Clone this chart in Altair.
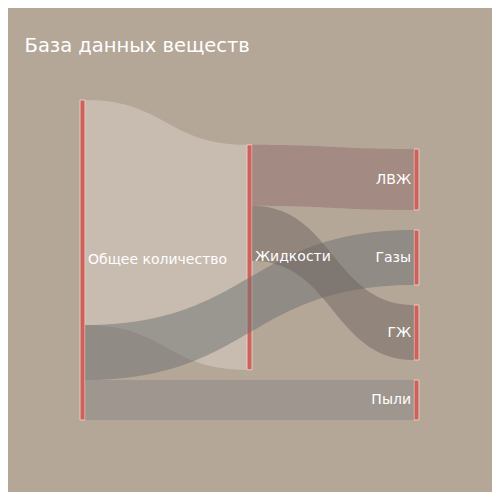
import altair as alt
import pandas as pd
import numpy as np

title_text = "База данных веществ"
node_names = ["Общее количество", "Жидкости", "ЛВЖ", "Газы", "ГЖ", "Пыли"]
link_sources = ["Общее количество", "Общее количество", "Общее количество", "Жидкости", "Жидкости"]
link_targets = ["Жидкости", "Газы", "Пыли", "ЛВЖ", "ГЖ"]
link_values = [225, 55, 40, 61, 55]

# style
link_colors = ["#dcd2c8", "#6c7070", "#8a8886", "#916e6c", "#6e6460"]
BG = "#b5a798"
NODE_FILL = "#cd625c"
NODE_STROKE = "#ebc8be"
W, H = 339, 320
NODE_W = 5
GAP = 20

# ---- simple sankey layout ----
out_links = {n: [] for n in node_names}
in_links = {n: [] for n in node_names}
for i, (s, t) in enumerate(zip(link_sources, link_targets)):
    out_links[s].append(i)
    in_links[t].append(i)

depth = {n: 0 for n in node_names}
for _ in range(len(node_names)):
    for s, t in zip(link_sources, link_targets):
        depth[t] = max(depth[t], depth[s] + 1)
max_depth = max(depth.values())
for n in node_names:
    if not out_links[n]:
        depth[n] = max_depth

value = {n: max(sum(link_values[i] for i in in_links[n]),
                sum(link_values[i] for i in out_links[n])) for n in node_names}
columns = [[n for n in node_names if depth[n] == d] for d in range(max_depth + 1)]
total = max(sum(value[n] for n in col) + GAP * (len(col) - 1) for col in columns)

top = {}
for col in columns:
    y = 0
    for n in col:
        top[n] = y
        y += value[n] + GAP


def resolve(col):
    y = 0
    for n in col:
        top[n] = max(top[n], y)
        y = top[n] + value[n] + GAP
    bottom = total
    for n in reversed(col):
        top[n] = min(top[n], bottom - value[n])
        bottom = top[n] - GAP
    y = 0
    for n in col:
        top[n] = max(top[n], y)
        y = top[n] + value[n] + GAP


def center(n):
    return top[n] + value[n] / 2


for _ in range(40):
    for col in columns[1:]:
        for n in col:
            wsum, csum = 0, 0
            for i in in_links[n]:
                wsum += link_values[i]
                csum += link_values[i] * center(link_sources[i])
            for i in out_links[n]:
                wsum += link_values[i]
                csum += link_values[i] * center(link_targets[i])
            top[n] = csum / wsum - value[n] / 2
        resolve(col)

spacing = (W - NODE_W) / max_depth
xpos = {n: depth[n] * spacing for n in node_names}

# link positions on nodes
src_off = {}
for n in node_names:
    y = top[n]
    for i in sorted(out_links[n], key=lambda i: top[link_targets[i]]):
        src_off[i] = y
        y += link_values[i]
tgt_off = {}
for n in node_names:
    y = top[n]
    for i in sorted(in_links[n], key=lambda i: top[link_sources[i]]):
        tgt_off[i] = y
        y += link_values[i]


def bez(p0, p1, p2, p3, t):
    return ((1 - t) ** 3) * p0 + 3 * ((1 - t) ** 2) * t * p1 + 3 * (1 - t) * t * t * p2 + t ** 3 * p3


rows = []
ts = np.linspace(0, 1, 60)
for i, (s, t_) in enumerate(zip(link_sources, link_targets)):
    x0 = xpos[s] + NODE_W
    x1 = xpos[t_]
    xm = (x0 + x1) / 2
    sy0, ty0 = src_off[i], tgt_off[i]
    v = link_values[i]
    for t in ts:
        yt = bez(sy0, sy0, ty0, ty0, t)
        rows.append({"link": i, "target": t_, "x": bez(x0, xm, xm, x1, t),
                     "ya": yt, "yb": yt + v})
links_df = pd.DataFrame(rows)

nodes_df = pd.DataFrame({
    "name": node_names,
    "x0": [xpos[n] for n in node_names],
    "x1": [xpos[n] + NODE_W for n in node_names],
    "y0": [top[n] for n in node_names],
    "y1": [top[n] + value[n] for n in node_names],
    "yc": [center(n) for n in node_names],
    "last": [depth[n] == max_depth for n in node_names],
})

xs = alt.Scale(domain=[0, W], nice=False, zero=False)
ys = alt.Scale(domain=[0, total], nice=False, zero=False, reverse=True)

nodes = alt.Chart(nodes_df).mark_rect(fill=NODE_FILL, stroke=NODE_STROKE, strokeWidth=1).encode(
    x=alt.X("x0:Q", scale=xs, axis=None), x2="x1:Q",
    y=alt.Y("y0:Q", scale=ys, axis=None), y2="y1:Q",
)

links = alt.Chart(links_df).mark_area(opacity=0.5, interpolate="linear").encode(
    x=alt.X("x:Q", scale=xs, axis=None),
    y=alt.Y("ya:Q", scale=ys, axis=None), y2="yb:Q",
    color=alt.Color("target:N", scale=alt.Scale(domain=link_targets, range=link_colors), legend=None),
    detail="link:N",
)

lab_font = dict(font="DejaVu Sans", fontSize=14, color="white", baseline="middle")
labels_right = alt.Chart(nodes_df).transform_filter("!datum.last").mark_text(
    align="left", dx=3, **lab_font).encode(
    x=alt.X("x1:Q", scale=xs, axis=None), y=alt.Y("yc:Q", scale=ys, axis=None), text="name:N")
labels_left = alt.Chart(nodes_df).transform_filter("datum.last").mark_text(
    align="right", dx=-3, **lab_font).encode(
    x=alt.X("x0:Q", scale=xs, axis=None), y=alt.Y("yc:Q", scale=ys, axis=None), text="name:N")

chart = alt.layer(nodes, links, labels_right, labels_left).properties(
    width=W, height=H,
    title=alt.TitleParams(title_text, anchor="start", dx=-55, offset=28, baseline="alphabetic",
                          fontSize=19.5, font="DejaVu Sans", fontWeight="normal", color="white"),
    autosize=alt.AutoSizeParams(type="none"),
    padding={"left": 72, "top": 92, "right": 73, "bottom": 72},
    background=BG,
    usermeta={"embedOptions": {"defaultStyle": "body{background:#b5a798}"}},
).configure_view(stroke=None)

chart.save("out.html", embed_options={"renderer": "svg", "actions": False})
